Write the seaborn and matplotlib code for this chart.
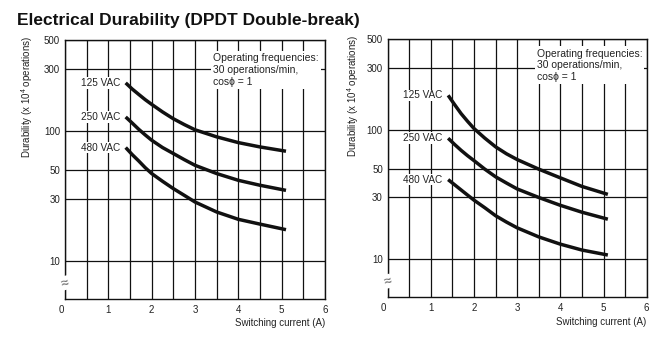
import numpy as np
import pandas as pd
import matplotlib
matplotlib.use("Agg")
import matplotlib.pyplot as plt
import matplotlib.transforms as mtransforms
import seaborn as sns

# ---- data ----
title = "Electrical Durability (DPDT Double-break)"
voltages = ["125 VAC", "250 VAC", "480 VAC"]
current_a = [1.4, 1.55, 1.7, 1.85, 2.0, 2.25, 2.5, 2.75, 3.0, 3.5, 4.0, 4.5, 5.1]

left_125 = [234, 210, 191, 174, 160, 140, 124, 112, 102, 90, 81.3, 75.3, 69.8]
left_250 = [128, 115, 103, 93.2, 84.8, 74.5, 67, 60.2, 54.4, 47, 41.7, 38.2, 34.9]
left_480 = [74.5, 65.8, 58.8, 52.2, 47, 41, 36, 32, 28.4, 23.8, 20.9, 19.2, 17.4]

right_125 = [184, 156, 133, 116, 102, 86, 73.7, 65.2, 58.8, 49.6, 42.5, 36.5, 31.7]
right_250 = [85.9, 76.9, 69.3, 63.0, 57.7, 49.6, 43.3, 38.8, 34.9, 30, 26.1, 23.1, 20.4]
right_480 = [41.2, 37.6, 34.3, 31.3, 28.6, 25, 21.7, 19.4, 17.5, 14.9, 13.1, 11.8, 10.8]

x_ticks = [0, 1, 2, 3, 4, 5, 6]
y_ticks = [10, 30, 50, 100, 300, 500]
y_tick_labels = ["10", "30", "50", "100", "300", "500"]
note = "Operating frequencies:\n30 operations/min,\ncos\u03d5 = 1"
ylabel = "Durability (x 10$^{4}$ operations)"
xlabel = "Switching current (A)"


def make_df(s125, s250, s480):
    rows = []
    for v, s in zip(voltages, [s125, s250, s480]):
        for x, y in zip(current_a, s):
            rows.append({"current": x, "durability": y, "voltage": v})
    return pd.DataFrame(rows)


sns.set_style("white")
plt.rcParams["font.family"] = ["Liberation Sans", "DejaVu Sans"]
plt.rcParams["mathtext.fontset"] = "custom"
plt.rcParams["mathtext.rm"] = "Liberation Sans"

fig = plt.figure(figsize=(6.67, 3.48), dpi=100)
fig.text(17 / 667, 1 - 20 / 348, title, fontsize=12.5, fontweight="bold",
         ha="left", va="center", color="#111111")

panels = [
    ([65 / 667, 1 - 299 / 348, 260 / 667, 259 / 348],
     make_df(left_125, left_250, left_480), (0.570, 0.948), -0.145),
    ([387.7 / 667, 1 - 297.3 / 348, 259 / 667, 258.3 / 348],
     make_df(right_125, right_250, right_480), (0.575, 0.963), -0.133),
]

for rect, df, note_pos, ylab_x in panels:
    ax = fig.add_axes(rect)
    ax.set_yscale("log")
    sns.lineplot(data=df, x="current", y="durability", hue="voltage",
                 palette=["#111111"] * 3, linewidth=2.5, legend=False, ax=ax,
                 zorder=3)
    for ln in ax.lines:
        ln.set_solid_capstyle("butt")
        ln.set_solid_joinstyle("round")
    ax.set_xlim(0, 6)
    ax.set_ylim(5.1, 500)
    ax.set_xticks(x_ticks)
    ax.set_xticklabels([str(t) for t in x_ticks])
    ax.set_xticks(np.arange(0, 6.01, 0.5), minor=True)
    ax.set_yticks(y_ticks)
    ax.set_yticklabels(y_tick_labels)
    ax.yaxis.set_minor_locator(matplotlib.ticker.NullLocator())
    ax.tick_params(axis="both", which="both", length=0, labelsize=7,
                   colors="#222222")
    ax.tick_params(axis="x", pad=4)
    ax.tick_params(axis="y", pad=3.5)
    ax.grid(True, which="both", axis="x", color="#111111", linewidth=0.9)
    ax.grid(True, which="major", axis="y", color="#111111", linewidth=0.9)
    ax.set_axisbelow(True)
    for sp in ax.spines.values():
        sp.set_visible(True)
        sp.set_color("#111111")
        sp.set_linewidth(1.0)
    ax.set_xlabel("")
    ax.set_ylabel("")
    # shift the "0" label slightly left as in the reference
    lab0 = ax.get_xticklabels()[0]
    lab0.set_transform(lab0.get_transform() +
                       mtransforms.ScaledTranslation(-4 / 100, 0, fig.dpi_scale_trans))

    # curve labels
    for v in voltages:
        y0 = df[df["voltage"] == v]["durability"].iloc[0]
        ax.text(1.27, y0, v, ha="right", va="center", fontsize=7.2,
                color="#222222", zorder=4,
                bbox=dict(facecolor="white", edgecolor="none", pad=0.6))

    ax.text(note_pos[0], note_pos[1], note, transform=ax.transAxes,
            ha="left", va="top", fontsize=7.5, color="#222222",
            linespacing=1.2, zorder=4,
            bbox=dict(facecolor="white", edgecolor="none", pad=1.5))

    ax.text(ylab_x, 1.015, ylabel, transform=ax.transAxes, rotation=90,
            ha="center", va="top", fontsize=7, color="#222222")
    ax.text(1.0, -0.094, xlabel, transform=ax.transAxes, ha="right",
            va="center", fontsize=7, color="#222222")
    # axis break mark
    ax.text(0.0, 0.062, "\u2248", transform=ax.transAxes, rotation=15,
            ha="center", va="center", fontsize=10, color="#555555", zorder=5,
            clip_on=False,
            bbox=dict(facecolor="white", edgecolor="none", pad=0.0))

fig.savefig("out.png", dpi=100)
